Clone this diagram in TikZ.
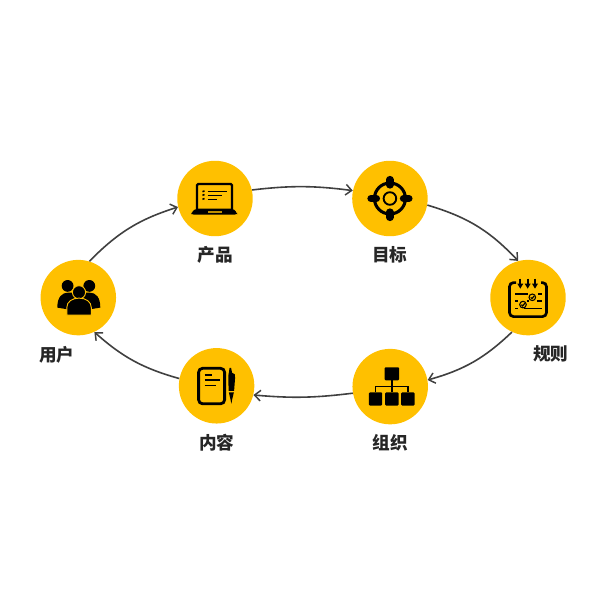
\documentclass[tikz,border=0pt]{standalone}
\usepackage{fontspec}
\setmainfont{Noto Sans CJK SC}
\usetikzlibrary{positioning,arrows.meta}
\definecolor{stagefill}{HTML}{FFC000}
\definecolor{linkgray}{HTML}{404040}
\definecolor{labelgray}{HTML}{262626}

\begin{document}
\begin{tikzpicture}[x=0.75pt,y=-0.75pt,
	stage/.style={circle, fill=stagefill, inner sep=0pt, minimum size=56.6pt},
	title/.style={font=\fontsize{13.2}{15}\selectfont\bfseries, text=labelgray, inner sep=0pt},
	link/.style={draw=linkgray, line width=1.2pt, -{Straight Barb[length=4.5pt,width=8pt,line width=1.1pt]}}]
\useasboundingbox (0,0) rectangle (600,600);

%--cerchi delle fasi
\node [stage] (user) at (78.3,297.6) {};
\node [stage] (product) at (215,198.5) {};
\node [stage, right=74.2pt of product] (target) {};
\node [stage] (rule) at (528,297.6) {};
\node [stage] (org) at (390.2,386.6) {};
\node [stage, left=73.2pt of org, yshift=0.6pt] (content) {};

%--etichette
\node [title, below=7.6pt of user, xshift=-16pt] (usertitle) {用户};
\node [title, below=7.4pt of product] (producttitle) {产品};
\node [title, below=7.4pt of target] (targettitle) {目标};
\node [title, below=7.6pt of rule, xshift=17pt] (ruletitle) {规则};
\node [title, below=7.2pt of org] (orgtitle) {组织};
\node [title, below=7.4pt of content] (contenttitle) {内容};

%--frecce
\draw[link] (user.73) to[bend left=14] (product.193);
\draw[link] (product.13) to[bend left=7] (target.168);
\draw[link] (target.-10) to[bend left=15] (rule.105);
\draw[link] (rule.-115) to[bend left=14] (org.10);
\draw[link] (org.190) to[bend left=6] (content.-14);
\draw[link] (content.169) to[bend left=13] (user.-65);

%--icona utenti
\begin{scope}[shift={(user)}]
\fill (-10.7,-11.7) circle (5.9);
\fill (11,-11.7) circle (5.9);
\fill (-21,10) .. controls (-21,-1) and (-16,-5) .. (-10,-5) -- (11,-5) .. controls (18,-5) and (22,0) .. (22,10) -- (13,11.5) -- (-12,11.5) -- cycle;
\filldraw[draw=stagefill, line width=0.7pt] (0.7,-5.3) circle (6.6);
\filldraw[draw=stagefill, line width=0.7pt] (-11.5,17.5) -- (-11.5,10) .. controls (-11.5,4) and (-6,0.5) .. (0.7,0.5) .. controls (7.5,0.5) and (13,4) .. (13,10) -- (13,17.5) -- cycle;
\end{scope}

%--icona portatile
\begin{scope}[shift={(product)}]
\draw[line width=1.7pt, rounded corners=1pt] (-18,11) -- (-18,-14.5) -- (17,-14.5) -- (17,11);
\fill[rounded corners=1.5pt] (-19,10) -- (18,10) -- (22,14) -- (22,16) -- (-23.7,16) -- (-23.7,14) -- cycle;
\fill[stagefill!75!black] (-7,12) rectangle (7,14);
\foreach \y/\x in {-6.8/11.7, -3.2/6.5, 0.8/1.5} {
	\draw[line width=1.15pt] (-7.3,\y) -- (\x,\y);
	\draw[line width=1.15pt] (-12.5,\y) -- (-10.5,\y-0.8);
}
\end{scope}

%--icona bersaglio
\begin{scope}[shift={(target)}]
\draw[line width=2.3pt] (0,0) circle (15.5);
\draw[line width=1.4pt] (0,0) circle (6.3);
\foreach \a in {0,90,180,270} {
	\draw[line width=5.4pt, line cap=round] (\a:13.5) -- (\a:19);
}
\end{scope}

%--icona calendario
\begin{scope}[shift={(rule)}]
\draw[line width=2pt, rounded corners=3pt] (-12,-15) -- (-18.5,-15) -- (-18.5,19) -- (18.5,19) -- (18.5,-15) -- (13,-15);
\foreach \x in {-7.7,-0.3,7} {
	\draw[line width=1.5pt] (\x,-19) -- (\x,-13);
	\fill (\x-3,-14) -- (\x+3,-14) -- (\x,-9) -- cycle;
}
\draw[line width=1pt] (-13,-3.5) -- (0,-3.5) (10,-3.5) -- (13.5,-3.5);
\draw[line width=1pt] (-13,3.5) -- (-10,3.5) (-1,3.5) -- (1,3.5) (9,3.5) -- (13.5,3.5);
\draw[line width=1pt] (-13,11) -- (-10,11) (-4,11) -- (13.5,11);
\foreach \x/\y in {4.3/-0.3,-5/7} {
	\draw[line width=0.8pt] (\x,\y) circle (3.3);
	\draw[line width=0.9pt] (\x-1.6,\y) -- (\x-0.3,\y+1.3) -- (\x+1.9,\y-1.4);
}
\end{scope}

%--icona organigramma
\begin{scope}[shift={(org)}]
\fill[rounded corners=0.8pt] (-5.7,-19.3) rectangle (9,-6.3);
\foreach \x in {-21.3,-5,11} {
	\fill[rounded corners=0.8pt] (\x,5.7) rectangle (\x+13.3,19);
}
\draw[line width=1.2pt] (1.7,-6.3) -- (1.7,5.7) (-14.6,5.7) -- (-14.6,-0.3) -- (17.7,-0.3) -- (17.7,5.7);
\end{scope}

%--icona appunti
\begin{scope}[shift={(content)}]
\draw[line width=2.1pt, rounded corners=3pt] (-18,-17.5) rectangle (8,18);
\foreach \y/\x in {-11/-5, -6/3.7, -0.3/-1} {
	\draw[line width=1.4pt] (-12,\y) -- (\x,\y);
}
\fill (13,-18) -- (14.5,-18) -- (15.5,-13) .. controls (18,-13) and (19,-11) .. (18.5,-8) -- (17.5,5) -- (12,5) -- (11.7,-10) -- cycle;
\fill (12.2,6.5) -- (17.3,6.5) -- (15.5,14) -- (14.8,18) -- (14,14) -- cycle;
\end{scope}

\end{tikzpicture}
\end{document}
